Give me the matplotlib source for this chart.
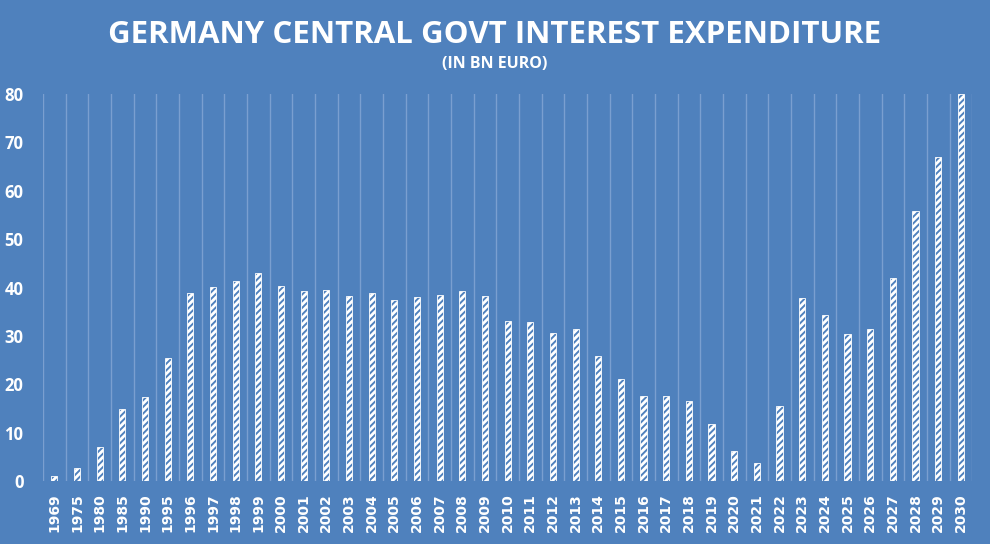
import matplotlib.pyplot as plt
import numpy as np

years = ["1969", "1975", "1980", "1985", "1990"] + [str(y) for y in range(1995, 2031)]
interest = [1.0, 2.7, 7.0, 14.9, 17.4, 25.4, 38.8, 40.1, 41.3, 43.0,
            40.3, 39.3, 39.5, 38.2, 38.8, 37.4, 38.0, 38.4, 39.3, 38.2,
            33.1, 32.9, 30.6, 31.4, 25.8, 21.1, 17.6, 17.6, 16.5, 11.8,
            6.2, 3.7, 15.5, 37.8, 34.3, 30.4, 31.4, 41.9, 55.8, 66.9, 80.0]

bg = "#4F81BD"
grid = "#7A9FD0"

plt.rcParams['font.family'] = ['Open Sans', 'DejaVu Sans']
plt.rcParams['hatch.linewidth'] = 2.0

fig = plt.figure(figsize=(9.9, 5.44), dpi=100, facecolor=bg)
ax = fig.add_axes([0.0434, 0.1158, 0.9386, 0.7112])
ax.set_facecolor(bg)

x = np.arange(len(years))
ax.bar(x, interest, 0.27, color=bg, edgecolor="white", hatch="/////", linewidth=0.6, zorder=3)

for b in np.arange(-0.5, len(years), 1):
    ax.axvline(b, color=grid, lw=1, zorder=1)

ax.set_xlim(-0.5, len(years) - 0.5)
ax.set_ylim(0, 80)
ax.set_yticks(range(0, 81, 10))
ax.set_xticks(x)
ax.set_xticklabels(years, rotation=90, fontsize=10, fontweight='bold', color='white',
                   family='DejaVu Sans')
for lab in ax.get_yticklabels():
    lab.set_fontsize(12)
    lab.set_fontweight('bold')
    lab.set_color('white')
ax.tick_params(axis='x', length=0, pad=9)
ax.tick_params(axis='y', length=0, pad=14)
for s in ax.spines.values():
    s.set_visible(False)

fig.text(0.5, 0.935, "GERMANY CENTRAL GOVT INTEREST EXPENDITURE", ha='center', va='center',
         color='white', fontsize=22.5, fontweight='bold')
fig.text(0.5, 0.883, "(IN BN EURO)", ha='center', va='center', color='white',
         fontsize=11.5, fontweight='bold')

fig.savefig("out.png", dpi=100, facecolor=bg)
